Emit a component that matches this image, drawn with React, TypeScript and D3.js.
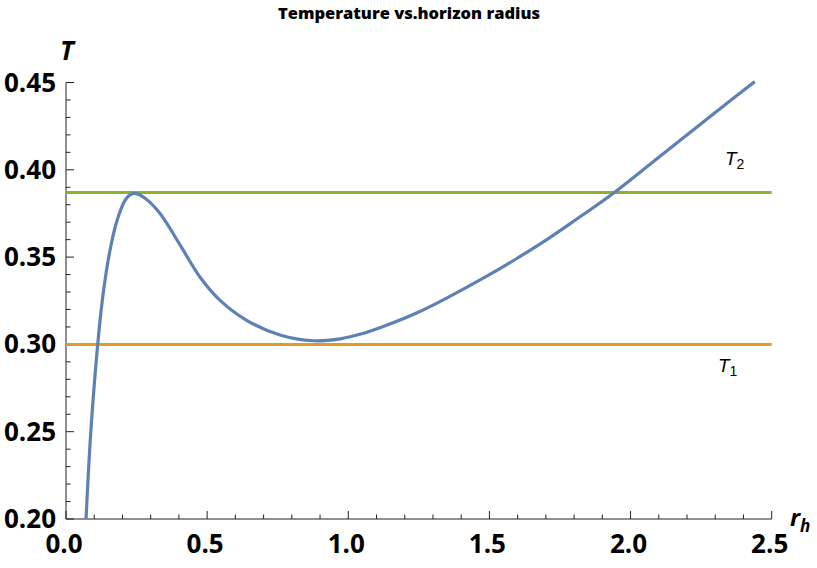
import React from "react";
import * as d3 from "d3";

const rValues = [0.071, 0.0875, 0.112, 0.13, 0.153, 0.18, 0.209, 0.228, 0.244, 0.28, 0.333, 0.404, 0.475, 0.545, 0.64, 0.758, 0.876, 0.971, 1.041, 1.124, 1.242, 1.36, 1.478, 1.597, 1.714, 1.797, 1.939, 2.08, 2.222, 2.364, 2.44];
const tValues = [0.2, 0.249, 0.2995, 0.327, 0.3515, 0.3705, 0.3825, 0.3858, 0.3865, 0.3837, 0.375, 0.357, 0.3385, 0.3254, 0.3138, 0.3054, 0.3021, 0.3032, 0.3058, 0.3103, 0.318, 0.3275, 0.3379, 0.3492, 0.3612, 0.3704, 0.3866, 0.4046, 0.4228, 0.441, 0.4505];
const T1 = 0.3;
const T2 = 0.387;
const xTicks = [0, 0.5, 1.0, 1.5, 2.0, 2.5];
const yTicks = [0.2, 0.25, 0.3, 0.35, 0.4, 0.45];

const W = 817, H = 568;
const x = d3.scaleLinear().domain([0, 2.5]).range([66, 771.7]);
const y = d3.scaleLinear().domain([0.2, 0.45]).range([519, 82.5]);

export default function App() {
  const pts = rValues.map((r, i) => [r, tValues[i]] as [number, number]);
  const line = d3.line<[number, number]>().x(d => x(d[0])).y(d => y(d[1])).curve(d3.curveCatmullRom.alpha(0.5));
  const xMinor = d3.range(0, 2.5001, 0.1);
  const yMinor = d3.range(0.2, 0.45001, 0.01);
  const isMajorX = (v: number) => Math.abs(v * 2 - Math.round(v * 2)) < 1e-6;
  const isMajorY = (v: number) => Math.abs(v * 20 - Math.round(v * 20)) < 1e-6;
  const tickFont = "'Open Sans', sans-serif";
  return (
    <svg width={W} height={H} style={{ position: "absolute", left: 0, top: 0, background: "#fff" }}>
      <text x={409} y={19} textAnchor="middle" fontFamily={tickFont} fontWeight={800} fontSize={16.5} fill="#000">Temperature vs.horizon radius</text>
      {/* axes */}
      <line x1={x(0)} x2={x(2.5)} y1={y(0.2)} y2={y(0.2)} stroke="#222" strokeWidth={1} />
      <line x1={x(0)} x2={x(0)} y1={y(0.2)} y2={y(0.45)} stroke="#222" strokeWidth={1} />
      {xMinor.map((v, i) => (
        <line key={"xt" + i} x1={x(v)} x2={x(v)} y1={y(0.2)} y2={y(0.2) - (isMajorX(v) ? 8 : 4.5)} stroke="#222" strokeWidth={1} />
      ))}
      {yMinor.map((v, i) => (
        <line key={"yt" + i} x1={x(0)} x2={x(0) + (isMajorY(v) ? 8 : 4.5)} y1={y(v)} y2={y(v)} stroke="#222" strokeWidth={1} />
      ))}
      {xTicks.map((v, i) => (
        <text key={"xl" + i} x={x(v) - 2} y={553} textAnchor="middle" fontFamily={tickFont} fontWeight={700} fontSize={26} fill="#000">{v.toFixed(1)}</text>
      ))}
      {yTicks.map((v, i) => (
        <text key={"yl" + i} x={56} y={y(v) + 9} textAnchor="end" fontFamily={tickFont} fontWeight={700} fontSize={26} fill="#000">{v.toFixed(2)}</text>
      ))}
      <text x={60} y={60} fontFamily={tickFont} fontWeight={700} fontStyle="italic" fontSize={26} fill="#000">T</text>
      <text x={790} y={526} fontFamily={tickFont} fontWeight={700} fontStyle="italic" fontSize={24} fill="#000">r<tspan fontSize={17} dy={6}>h</tspan></text>
      {/* reference lines */}
      <line x1={x(0)} x2={x(2.5)} y1={y(T2)} y2={y(T2)} stroke="#8FB032" strokeWidth={3} />
      <line x1={x(0)} x2={x(2.5)} y1={y(T1)} y2={y(T1)} stroke="#E19C24" strokeWidth={3} />
      <path d={line(pts) || ""} fill="none" stroke="#5E81B5" strokeWidth={3.2} />
      <text x={725} y={165} fontFamily="'Liberation Sans', Arial, sans-serif" fontStyle="italic" fontSize={19} fill="#000">T<tspan fontStyle="normal" fontSize={14} dy={4}>2</tspan></text>
      <text x={718} y={372} fontFamily="'Liberation Sans', Arial, sans-serif" fontStyle="italic" fontSize={19} fill="#000">T<tspan fontStyle="normal" fontSize={14} dy={4}>1</tspan></text>
    </svg>
  );
}
